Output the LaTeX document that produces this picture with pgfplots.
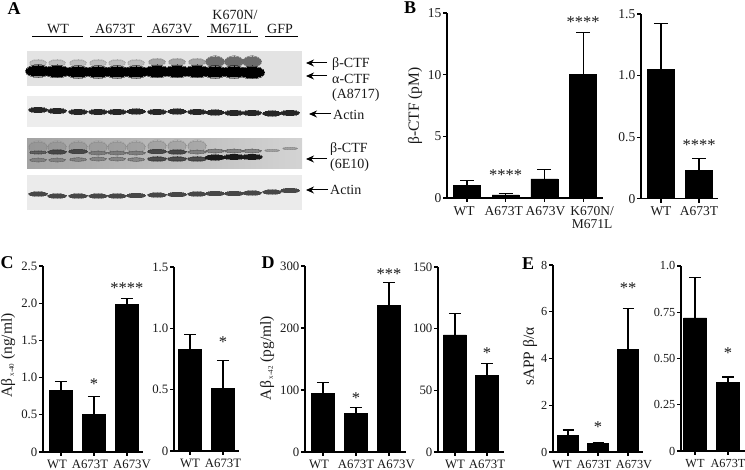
\documentclass[border=0pt]{standalone}
\usepackage{fontspec}
\setmainfont{Liberation Serif}
\usepackage{pgfplots}
\pgfplotsset{compat=1.18}
\usetikzlibrary{arrows.meta}
\newcommand\band[5]{%
 \addplot[only marks,mark=*,mark size=#4*1.3pt,mark options={xscale=#3/(#4*1.3)*1.06,line width=0pt,draw=#1,fill=#1,opacity=0.35*#2}] coordinates {#5};
 \addplot[only marks,mark=*,mark size=#4*1pt,mark options={xscale=#3/#4,line width=0pt,draw=#1,fill=#1,opacity=#2}] coordinates {#5};
}
\newcommand\sh[2]{\hspace*{#1pt}#2}
\newcommand\rect[5]{\addplot[fill=#1,draw=none] coordinates {(#2,#3)(#4,#3)(#4,#5)(#2,#5)} -- cycle;}
\newcommand\arr[3]{\draw[-{Stealth[length=8pt,width=7pt]},line width=1pt,black] (axis cs:#1,#3) -- (axis cs:#2,#3);}
\pgfplotsset{
 barpanel/.style={
  scale only axis,
  axis lines=left,
  axis line style={-,line width=1.1pt,black},
  tick style={line width=1.1pt,black},
  major tick length=4pt,
  tick align=outside,
  ymin=0,
  xtick=data,
  clip=false,
  ybar,
  bar shift=0pt,
  /pgf/number format/assume math mode=true,
  yticklabel style={inner sep=1.5pt,text=black!90},
  xticklabel style={inner sep=0pt,yshift=-4pt,align=center,text=black!90},
  scaled y ticks=false,
 },
 errs/.style={fill=black,draw=black,line width=0.5pt,error bars/.cd,y dir=plus,y explicit,error bar style={line width=1.1pt,black},error mark options={rotate=90,mark size=#1,line width=1.1pt,black}},
 ylab/.style 2 args={every axis y label/.style={at={(axis description cs:#1,#2)},rotate=90,anchor=center,font=\fontsize{15.5}{15.5}\selectfont,text=black!90}},
}
\newcommand\stars[3]{\node[font=\fontsize{16.5}{16.5}\selectfont,text=black!90,inner sep=0pt] at (axis cs:#1,#2) {#3};}
\newcommand\letter[3]{\node[font=\fontsize{18}{18}\bfseries\selectfont,inner sep=0pt] at (#1,{470-#2}) {#3};}
\begin{document}
\begin{tikzpicture}[x=1pt,y=1pt]
\useasboundingbox (0,0) rectangle (745,470);
\letter{14}{9}{A}\letter{410}{8}{B}\letter{7}{263}{C}\letter{268}{263}{D}\letter{528}{264}{E}

% Panel A
\begin{axis}[at={(0pt,255pt)},anchor=south west,scale only axis,width=400pt,height=215pt,
 xmin=0,xmax=400,ymin=0,ymax=215,y dir=reverse,hide axis,clip=false]
\rect{black!11}{27}{51}{302}{86}
\rect{black!7}{27}{96}{302}{127}
\addplot[left color=black!36,right color=black!17,draw=none] coordinates {(27,139)(302,139)(302,169)(27,169)} -- cycle;
\rect{black!8}{27}{175}{302}{210}
% blot 1
\band{black!35}{0.5}{8}{3}{(38,63)(57,63)(78,63)(98,63)(117,63)(136,63)}
\band{black!40}{0.8}{8}{3}{(157,62)(177,62)(197,62)}
\band{black!58}{1}{9}{4.5}{(215,61.5)(234,61.5)(252,61.5)}
\band{black}{1}{12}{5}{(38,71)(57,71.5)(78,72)(98,72)(117,72)(136,72)(157,71.5)(177,71.5)(197,71.5)(215,72)(234,72)(252,72.5)}
\addplot[draw=black,line width=8pt] coordinates {(36,71.5)(258,72)};
% blot 2
\band{black!85}{1}{9}{2.2}{(38,110)(57,111)(78,112)(98,112)(117,112)(136,111.5)(157,112)(177,111.5)(197,112)(215,112.5)(234,113)(252,113)(272,113.5)(290,113)}
% blot 3
\band{black!50}{0.3}{9}{5}{(38,147)(57,147)(78,147)(98,147)(117,147)(136,147)(157,146)(177,146)(197,146)}
\band{black!70}{0.7}{8}{1.3}{(38,152.5)}
\band{black!75}{0.9}{9}{1.9}{(57,152)(78,151.5)(157,151.5)(177,152)}
\band{black!60}{0.6}{9}{1.6}{(98,153)(117,153)(136,153)(197,152)(215,151)(234,151)(252,151)}
\band{black!60}{0.5}{8}{1.6}{(38,160)(57,160)(78,159.5)(98,159)(117,159)(136,159.5)}
\band{black!75}{0.85}{9}{2}{(157,159)(177,159)(197,159)}
\band{black!90}{1}{9.5}{2.2}{(215,157.5)(234,157)(252,157)}
\band{black!45}{0.6}{7}{1}{(272,150.5)(290,148.5)}
% blot 4
\band{black!72}{1}{9}{1.9}{(38,194)(57,196)(78,196)(98,196)(117,196)(136,195.5)(157,195)(177,194.5)(197,194)(215,193.5)(234,193.5)(252,193)(272,192)(290,190.5)}
% header lines
\draw[line width=1pt] (axis cs:32,37)--(axis cs:83,37) (axis cs:90,37)--(axis cs:142,37) (axis cs:147,37)--(axis cs:199,37) (axis cs:207,37)--(axis cs:258,37) (axis cs:265,37)--(axis cs:298,37);
\begin{scope}[every node/.style={font=\fontsize{14}{14}\selectfont,inner sep=0pt,text=black!90}]
\node at (axis cs:58,29) {WT};
\node at (axis cs:115,29) {A673T};
\node at (axis cs:172,29) {A673V};
\node at (axis cs:235,15) {K670N/};
\node at (axis cs:231,29) {M671L};
\node at (axis cs:280,29) {GFP};
\node[anchor=west] at (axis cs:332,64) {β-CTF};
\node[anchor=west] at (axis cs:332,79) {α-CTF};
\node[anchor=west] at (axis cs:332,95) {(A8717)};
\node[anchor=west] at (axis cs:333,115) {Actin};
\node[anchor=west] at (axis cs:330,149) {β-CTF};
\node[anchor=west] at (axis cs:330,165) {(6E10)};
\node[anchor=west] at (axis cs:330,190) {Actin};
\end{scope}
\arr{327}{306}{63}\arr{327}{306}{76}\arr{331}{309}{114}\arr{327}{306}{159}\arr{328}{306}{190}
\end{axis}

% Panel B
\begin{axis}[barpanel,at={(447pt,272pt)},anchor=south west,width=156pt,height=185pt,
 xmin=-0.517,xmax=3.514,ymax=15,ytick={0,5,10,15},bar width=27pt,
 xticklabels={\sh{-6}{WT},\sh{-4}{A673T},\sh{2}{A673V},{\sh{18}{K670N/}\\\sh{18}{M671L}}},
 tick label style={font=\fontsize{13.5}{13.5}\selectfont},
 ylabel={β-CTF (pM)},ylab={-0.205}{0.497}]
\addplot[errs=7pt] coordinates {(0,1.05) +- (0,0.37) (1,0.25) +- (0,0.08) (2,1.55) +- (0,0.75) (3,10.05) +- (0,3.35)};
\stars{1}{1.86}{****}\stars{3}{14.27}{****}
\end{axis}
\begin{axis}[barpanel,at={(641pt,271.3pt)},anchor=south west,width=77pt,height=184.7pt,
 xmin=-0.526,xmax=1.5,ymax=1.5,ytick={0,0.5,1,1.5},yticklabels={0,0.5,1.0,1.5},bar width=27pt,
 xticklabels={WT,A673T},
 tick label style={font=\fontsize{13.5}{13.5}\selectfont}]
\addplot[errs=7pt] coordinates {(0,1.05) +- (0,0.37) (1,0.23) +- (0,0.10)};
\stars{1}{0.436}{****}
\end{axis}

% Panel C
\begin{axis}[barpanel,at={(43pt,18pt)},anchor=south west,width=100pt,height=186pt,
 xmin=-0.545,xmax=2.485,ymax=2.5,ytick={0,0.5,1,1.5,2,2.5},yticklabels={0,0.5,1.0,1.5,2.0,2.5},bar width=23pt,
 xticklabels={\sh{-8}{WT},\sh{-8}{A673T},\sh{10}{A673V}},
 tick label style={font=\fontsize{12.8}{12.8}\selectfont},
 ylabel={Aβ\raisebox{-2pt}{\fontsize{7}{7}\selectfont\ x-40} (ng/ml)},ylab={-0.35}{0.52}]
\addplot[errs=6pt] coordinates {(0,0.83) +- (0,0.12) (1,0.51) +- (0,0.23) (2,1.98) +- (0,0.08)};
\stars{1}{0.914}{*}\stars{2}{2.2}{****}
\end{axis}
\begin{axis}[barpanel,at={(174pt,19pt)},anchor=south west,width=65pt,height=184pt,
 xmin=-0.485,xmax=1.485,ymax=1.5,ytick={0,0.5,1,1.5},yticklabels={0,0.5,1.0,1.5},bar width=23pt,
 xticklabels={WT,A673T},
 tick label style={font=\fontsize{12.8}{12.8}\selectfont}]
\addplot[errs=6pt] coordinates {(0,0.83) +- (0,0.12) (1,0.51) +- (0,0.23)};
\stars{1}{0.889}{*}
\end{axis}

% Panel D
\begin{axis}[barpanel,at={(305pt,18pt)},anchor=south west,width=101pt,height=186pt,
 xmin=-0.545,xmax=2.515,ymax=300,ytick={0,100,200,300},bar width=23pt,
 xticklabels={\sh{-8}{WT},A673T,\sh{14}{A673V}},
 tick label style={font=\fontsize{12.8}{12.8}\selectfont},
 ylabel={Aβ\raisebox{-2pt}{\fontsize{7}{7}\selectfont\ x-42} (pg/ml)},ylab={-0.376}{0.505}]
\addplot[errs=6pt] coordinates {(0,95) +- (0,17) (1,62) +- (0,10) (2,236) +- (0,38)};
\stars{1}{87}{*}\stars{2}{287}{***}
\end{axis}
\begin{axis}[barpanel,at={(438pt,18pt)},anchor=south west,width=66pt,height=185pt,
 xmin=-0.53,xmax=1.53,ymax=150,ytick={0,50,100,150},bar width=23pt,
 xticklabels={WT,A673T},
 tick label style={font=\fontsize{12.8}{12.8}\selectfont}]
\addplot[errs=6pt] coordinates {(0,95) +- (0,17) (1,62) +- (0,10)};
\stars{1}{80}{*}
\end{axis}

% Panel E
\begin{axis}[barpanel,at={(553pt,18pt)},anchor=south west,width=90pt,height=187pt,
 xmin=-0.5,xmax=2.5,ymax=8,ytick={0,2,4,6,8},bar width=21pt,
 xticklabels={\sh{-12}{WT},\sh{-8}{A673T},\sh{12}{A673V}},
 tick label style={font=\fontsize{12.3}{12.3}\selectfont},
 ylabel={sAPP β/α},ylab={-0.256}{0.51}]
\addplot[errs=5.5pt] coordinates {(0,0.72) +- (0,0.22) (1,0.37) +- (0,0.03) (2,4.38) +- (0,1.77)};
\stars{1}{1.07}{*}\stars{2}{7.0}{**}
\end{axis}
\begin{axis}[barpanel,at={(681pt,19pt)},anchor=south west,width=64pt,height=185pt,
 xmin=-0.424,xmax=1.515,ymax=1,ytick={0,0.25,0.5,0.75,1},yticklabels={0,0.25,0.50,0.75,1.0},bar width=23pt,
 xticklabels={WT,A673T},
 tick label style={font=\fontsize{12.3}{12.3}\selectfont}]
\addplot[errs=6pt] coordinates {(0,0.72) +- (0,0.22) (1,0.37) +- (0,0.03)};
\stars{1}{0.53}{*}
\end{axis}
\end{tikzpicture}
\end{document}
